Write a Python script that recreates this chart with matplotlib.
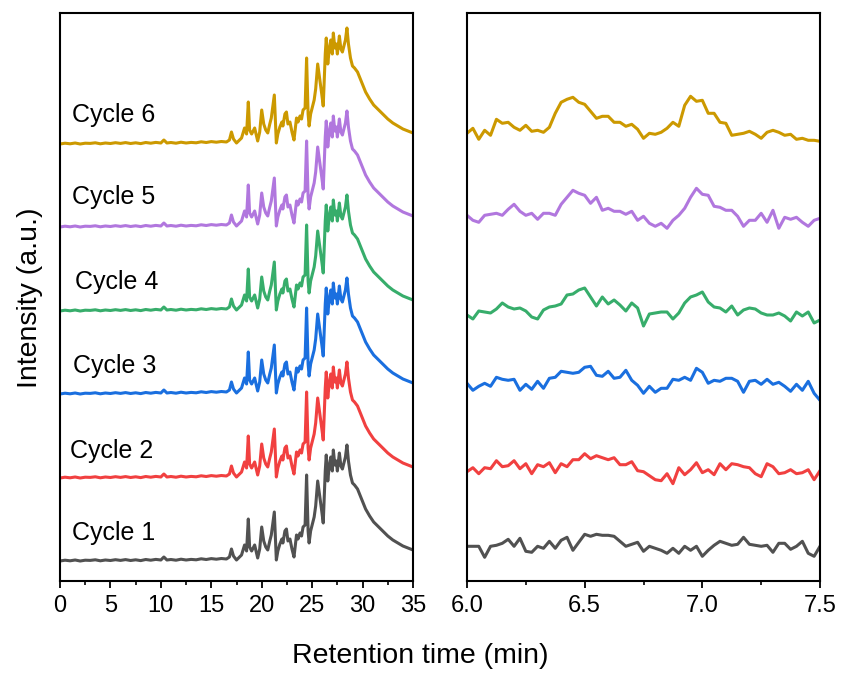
import numpy as np
import matplotlib
matplotlib.use("Agg")
import matplotlib.pyplot as plt
from matplotlib.ticker import MultipleLocator, FormatStrFormatter

plt.rcParams['font.family'] = ['Liberation Sans', 'DejaVu Sans']

# ---------------- data ----------------
cycles = ["Cycle 1", "Cycle 2", "Cycle 3", "Cycle 4", "Cycle 5", "Cycle 6"]
colors = ["#515151", "#F14040", "#1A6FDF", "#37AD6B", "#B177DE", "#CC9900"]

# full chromatogram (left panel): retention time (min) and intensity (a.u.)
full_time = [0.0, 0.5, 1.0, 1.5, 2.0, 2.5, 3.0, 3.5, 4.0, 4.5, 5.0, 5.5, 6.0,
             6.5, 7.0, 7.5, 8.0, 8.5, 9.0, 9.5, 10.0, 10.3, 10.6, 11.0, 11.5,
             12.0, 12.5, 13.0, 13.5, 14.0, 14.5, 15.0, 15.5, 16.0, 16.5, 16.8,
             17.0, 17.2, 17.5, 17.8, 18.0, 18.3, 18.5, 18.67, 18.8, 19.0, 19.3,
             19.6, 19.8, 20.0, 20.2, 20.4, 20.6, 20.8, 20.95, 21.25, 21.45, 21.6,
             21.8, 22.0, 22.1, 22.3, 22.45, 22.6, 22.8, 23.0, 23.2, 23.45, 23.6,
             23.8, 23.95, 24.1, 24.3, 24.45, 24.6, 24.7, 24.85, 25.0, 25.2, 25.35,
             25.55, 25.75, 25.95, 26.1, 26.3, 26.4, 26.55, 26.7, 26.85, 27.0, 27.1,
             27.25, 27.4, 27.5, 27.7, 27.85, 28.0, 28.15, 28.3, 28.45, 28.6, 28.8,
             29.0, 29.2, 29.5, 29.9, 30.3, 30.7, 31.1, 31.5, 32.0, 32.5, 33.0,
             33.5, 34.0, 34.5, 35.0]
full_signal = [0, 0.8, 0.2, 1, 0, 0.8, 0.6, 1.2, 0.2, 1, 0.5, 1.3, 0.6,
               1.4, 0.5, 1.2, 0.4, 1.5, 0.8, 1.6, 1, 4, 1, 1.5, 0.8,
               1.8, 1, 1.6, 1.2, 2.2, 1.5, 2.4, 1.8, 2.5, 2, 4,
               12, 5, 1, 4, 6, 16, 10, 42, 14, 10, 16,
               3, 12, 34, 20, 14, 11, 20, 26, 49, 1, 10,
               17, 22, 18, 30, 32, 20, 22, 12, 4, 26, 22,
               28, 25, 34, 36, 86, 30, 18, 30, 36, 44, 55,
               80, 65, 50, 38, 90, 106, 80, 95, 104, 90, 111,
               96, 100, 90, 108, 95, 92, 98, 104, 116, 100, 86,
               78, 76, 72, 62, 52, 45, 39, 35, 30, 25, 21,
               18, 15, 13, 11]

# zoomed region (right panel) 6.0 - 7.5 min, 0.025 min steps
zoom_time = np.linspace(6.0, 7.5, 61)
zoom_c1 = [17, 17, 17, 6, 17, 18, 20, 24, 17, 25, 12, 11, 17, 15, 22, 15, 23, 26,
           13, 21, 29, 27, 29, 28, 28, 27, 22, 17, 19, 21, 12, 17, 15, 13, 10, 15,
           10, 17, 13, 17, 7, 13, 18, 22, 20, 18, 19, 26, 19, 18, 17, 18, 11, 20,
           20, 14, 17, 22, 10, 7, 17]
zoom_c2 = [15, 19, 13, 19, 18, 26, 20, 21, 26, 18, 23, 13, 22, 20, 24, 14, 23, 20,
           27, 27, 33, 28, 31, 29, 27, 29, 22, 22, 25, 16, 15, 11, 7, 6, 13, 3,
           19, 12, 17, 24, 14, 17, 12, 23, 17, 23, 22, 20, 19, 13, 10, 23, 20, 13,
           14, 17, 13, 14, 17, 7, 16]
zoom_c3 = [20, 13, 17, 20, 17, 26, 24, 23, 24, 13, 19, 14, 22, 15, 25, 26, 32, 31,
           30, 31, 36, 37, 28, 27, 32, 25, 26, 33, 23, 18, 10, 17, 11, 15, 15, 24,
           23, 26, 23, 35, 31, 20, 23, 22, 25, 25, 22, 11, 22, 23, 19, 24, 19, 21,
           17, 12, 19, 13, 22, 10, 3]
zoom_c4 = [15, 11, 19, 18, 17, 21, 27, 23, 21, 22, 19, 13, 11, 20, 23, 24, 26, 35,
           36, 40, 42, 33, 24, 33, 26, 30, 25, 19, 27, 22, 4, 16, 17, 18, 18, 11,
           17, 27, 33, 35, 38, 28, 23, 22, 18, 24, 15, 20, 22, 21, 17, 15, 15, 17,
           14, 9, 18, 14, 18, 7, 10]
zoom_c5 = [18, 13, 11, 18, 19, 20, 18, 24, 29, 22, 18, 20, 14, 20, 20, 18, 29, 36,
           43, 40, 38, 30, 36, 23, 25, 22, 22, 19, 22, 13, 17, 10, 7, 10, 5, 13,
           18, 25, 36, 45, 39, 38, 27, 26, 23, 23, 17, 7, 13, 13, 20, 11, 23, 5,
           16, 14, 16, 11, 7, 13, 15]
zoom_c6 = [10, 15, 4, 13, 8, 24, 20, 21, 16, 13, 18, 12, 13, 11, 16, 30, 41, 44,
           46, 41, 39, 32, 25, 27, 27, 21, 21, 17, 19, 14, 5, 10, 9, 11, 15, 21,
           17, 38, 47, 42, 43, 30, 30, 21, 20, 8, 9, 10, 12, 9, 5, 11, 13, 11,
           8, 9, 4, 5, 3, 3, 2]
zoom_series = [zoom_c1, zoom_c2, zoom_c3, zoom_c4, zoom_c5, zoom_c6]

# vertical stacking offsets
full_offsets = [19, 102, 186, 269, 353, 436]
zoom_offsets = [16.7, 93.3, 176.7, 250, 346.7, 436.7]

# ---------------- figure ----------------
W, H = 842, 673
fig = plt.figure(figsize=(W / 100, H / 100), dpi=100)
axL = fig.add_axes([60 / W, (H - 581) / H, 353 / W, 568 / H])
axR = fig.add_axes([467 / W, (H - 581) / H, 353 / W, 568 / H])

lw = 2.2
for i in range(6):
    axL.plot(full_time, np.array(full_signal) + full_offsets[i], color=colors[i],
             lw=lw, solid_joinstyle='round')
    axR.plot(zoom_time, np.array(zoom_series[i]) + zoom_offsets[i], color=colors[i],
             lw=lw, solid_joinstyle='round')

label_x = [1.2, 1.0, 1.3, 1.5, 1.2, 1.2]
label_dy = [28, 27, 28, 29, 30, 29]
for i in range(6):
    axL.text(label_x[i], full_offsets[i] + label_dy[i], cycles[i], fontsize=18,
             ha='left', va='center')

axL.set_xlim(0, 35)
axR.set_xlim(6.0, 7.5)
for ax in (axL, axR):
    ax.set_ylim(-1, 567)
    ax.set_yticks([])
    for s in ax.spines.values():
        s.set_linewidth(1.5)
    ax.tick_params(axis='x', which='major', direction='out', length=5, width=1.3,
                   labelsize=17, pad=5)
    ax.tick_params(axis='x', which='minor', direction='out', length=3, width=1.2)

axL.xaxis.set_major_locator(MultipleLocator(5))
axL.xaxis.set_minor_locator(MultipleLocator(2.5))
axR.xaxis.set_major_locator(MultipleLocator(0.5))
axR.xaxis.set_minor_locator(MultipleLocator(0.25))
axR.xaxis.set_major_formatter(FormatStrFormatter('%.1f'))

fig.text(420 / W, 1 - 656 / H, "Retention time (min)", fontsize=20.5,
         ha='center', va='center')
fig.text(30 / W, 1 - 298 / H, "Intensity (a.u.)", fontsize=20.5,
         ha='center', va='center', rotation=90)

fig.savefig("out.png", dpi=100)
